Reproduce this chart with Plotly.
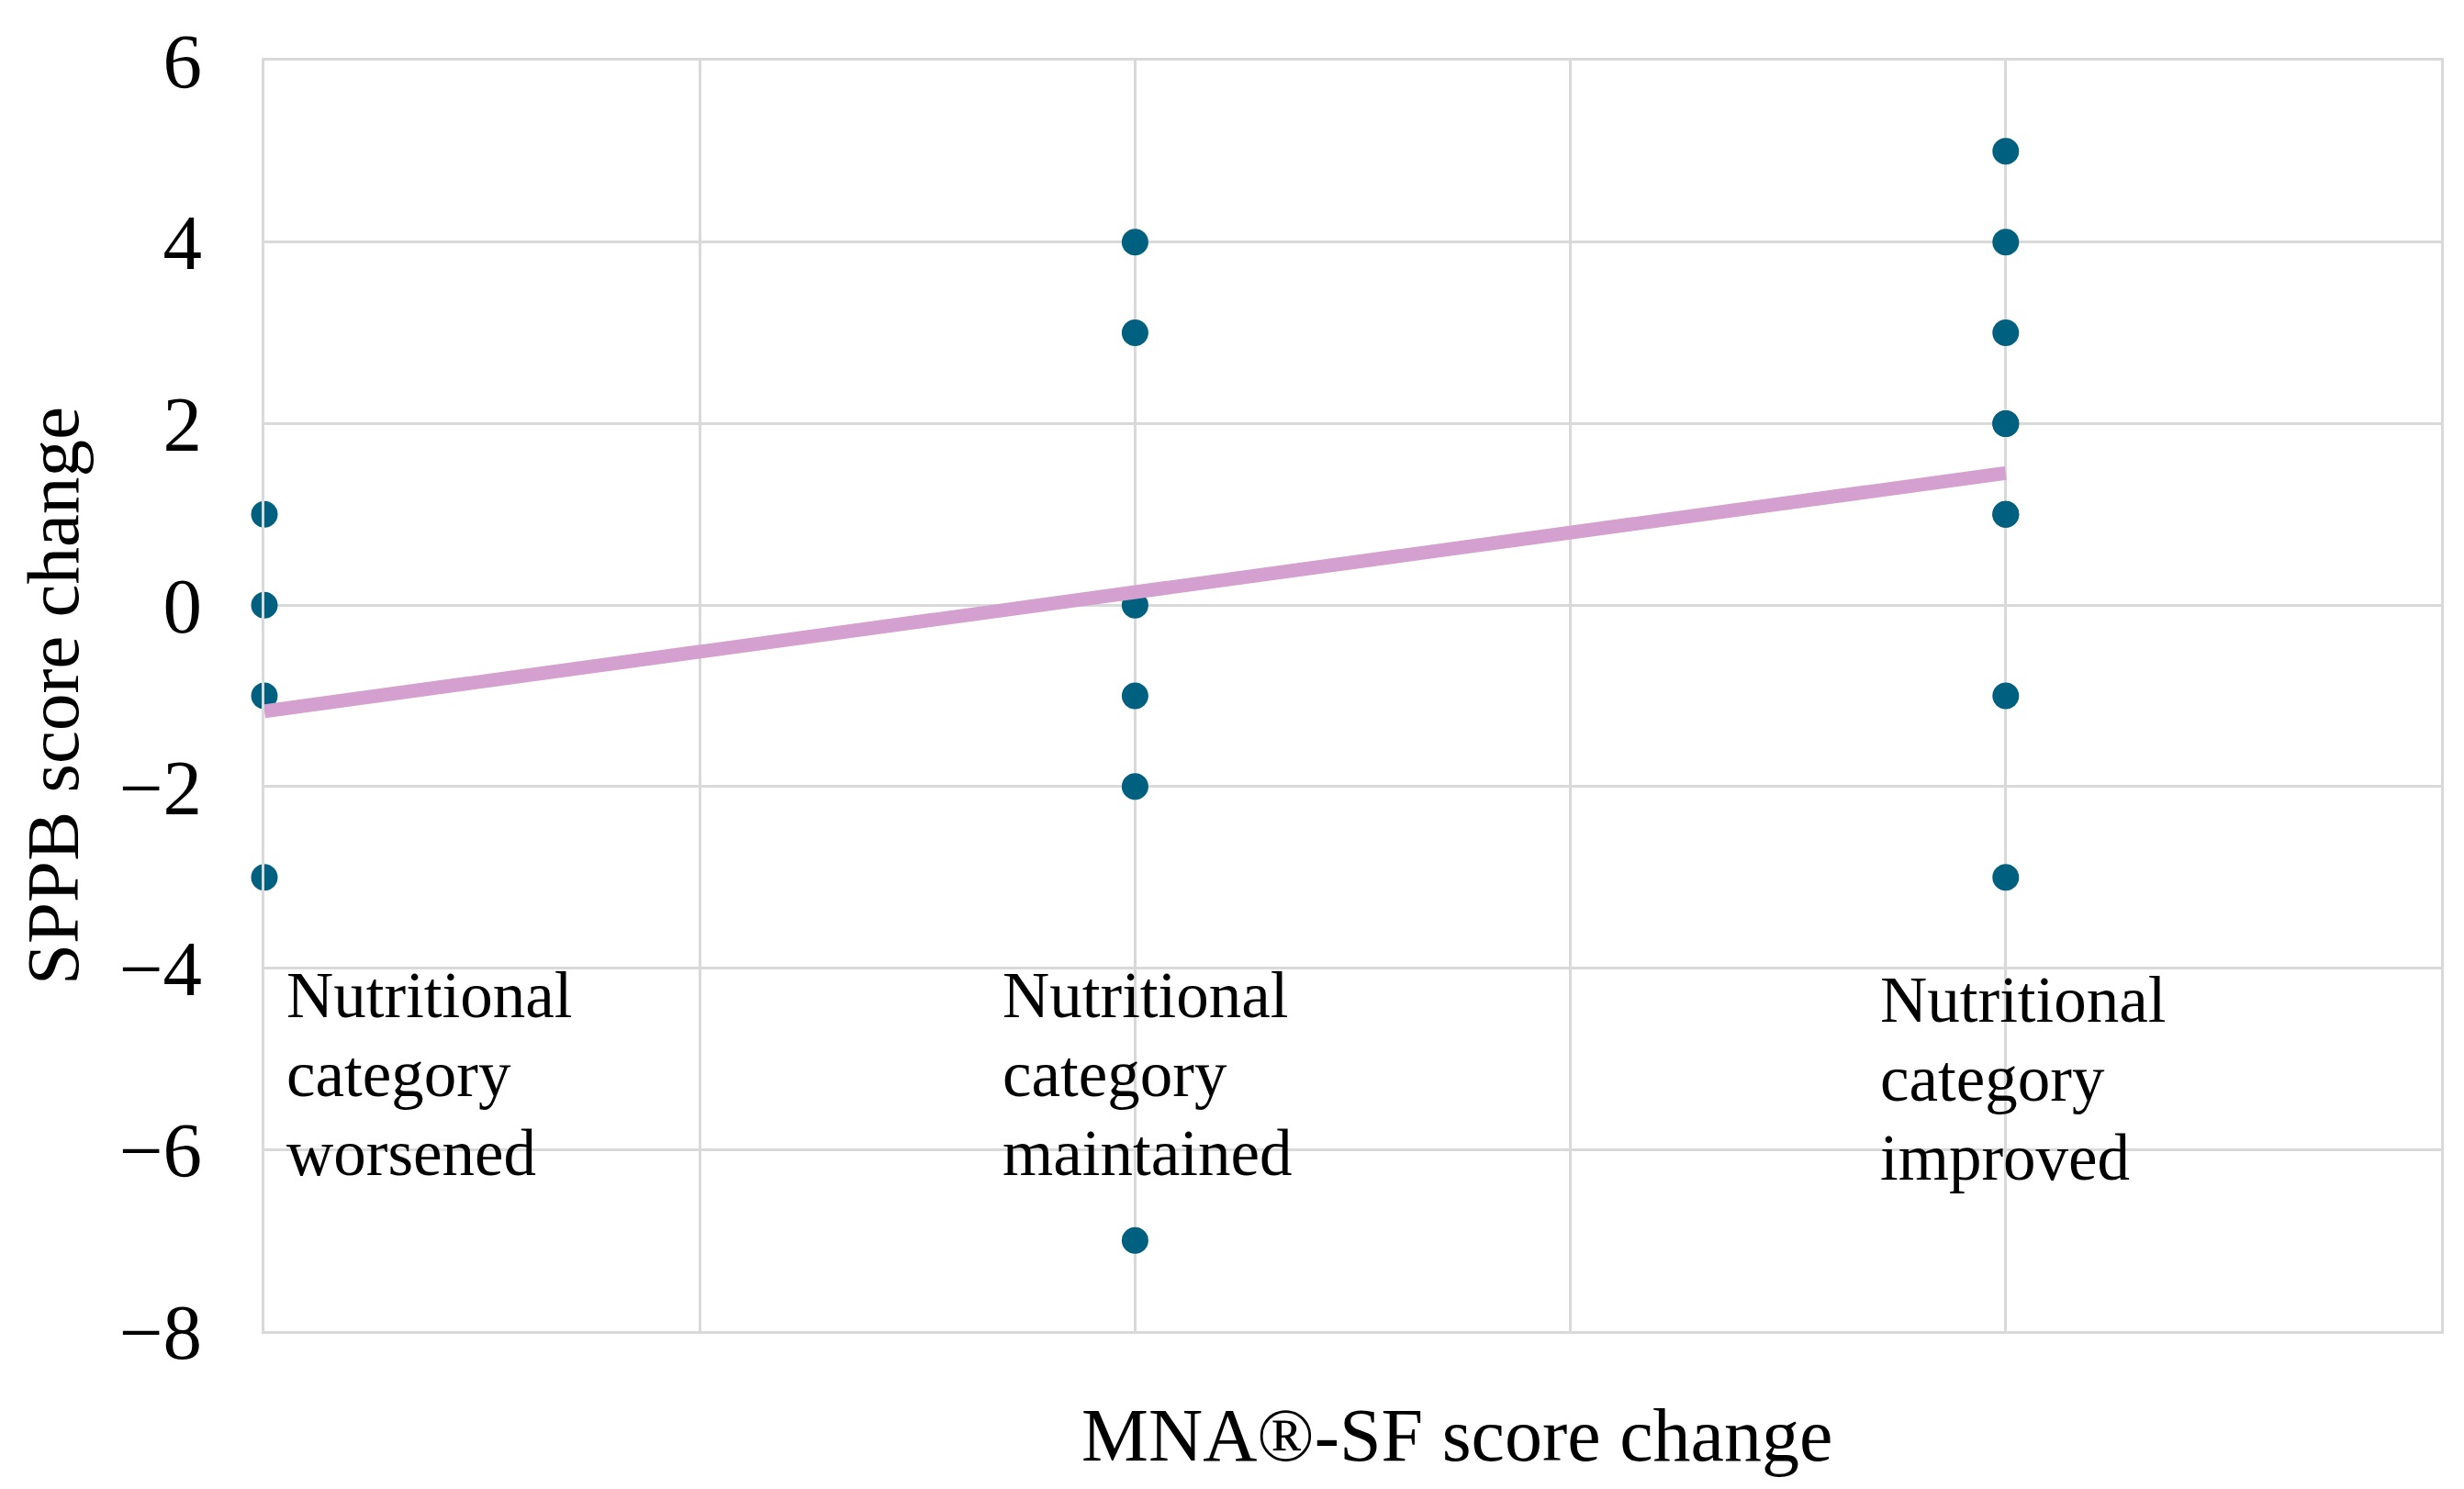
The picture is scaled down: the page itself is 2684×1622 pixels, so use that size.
import plotly.graph_objects as go

# ---- data ----
cat_x = {"worsened": 1, "maintained": 2, "improved": 3}
worsened_y = [1, 0, -1, -3]
maintained_y = [4, 3, 0, -1, -2, -7]
improved_y = [5, 4, 3, 2, 2, 1, 1, -1, -3]
trend_x = [1, 3]
trend_y = [-1.17, 1.455]
y_ticks = [6, 4, 2, 0, -2, -4, -6, -8]
cat_labels = [
    ("worsened", ["Nutritional", "category", "worsened"]),
    ("maintained", ["Nutritional", "category", "maintained"]),
    ("improved", ["Nutritional", "category", "improved"]),
]
x_title = "MNA®-SF score change"
y_title = "SPPB score change"

FONT = "Liberation Serif"
GRID = "#D9D9D9"
DOT = "#00607F"
TREND = "#D4A0CF"

xs = ([cat_x["worsened"]] * len(worsened_y) + [cat_x["maintained"]] * len(maintained_y)
      + [cat_x["improved"]] * len(improved_y))
ys = worsened_y + maintained_y + improved_y

fig = go.Figure()
fig.add_trace(go.Scatter(x=xs, y=ys, mode="markers",
                         marker=dict(color=DOT, size=29, line=dict(width=0)),
                         showlegend=False, cliponaxis=False))
fig.add_trace(go.Scatter(x=trend_x, y=trend_y, mode="lines",
                         line=dict(color=TREND, width=15), showlegend=False))

# category labels (left aligned text blocks)
label_pos = {"worsened": (1.023, -3.88), "maintained": (1.846, -3.88), "improved": (2.854, -3.93)}
line_step = 86
for key, lines in cat_labels:
    lx, ly = label_pos[key]
    for i, t in enumerate(lines):
        fig.add_annotation(x=lx, y=ly, xref="x", yref="y", text=t, showarrow=False,
                           xanchor="left", yanchor="top", yshift=-i * line_step,
                           font=dict(family=FONT, size=71, color="black"))

fig.add_annotation(x=0.548, y=-0.0817, xref="paper", yref="paper", text=x_title,
                   showarrow=False, xanchor="center", yanchor="middle",
                   font=dict(family=FONT, size=82, color="black"))
fig.add_annotation(x=-0.097, y=0.5, xref="paper", yref="paper", text=y_title,
                   showarrow=False, textangle=-90, xanchor="center", yanchor="middle",
                   font=dict(family=FONT, size=81, color="black"))

fig.update_layout(
    width=2684, height=1622,
    margin=dict(l=280, r=33, t=43, b=180),
    paper_bgcolor="white", plot_bgcolor="white",
    font=dict(family=FONT, color="black"),
)
fig.update_xaxes(range=[1, 3.5], dtick=0.5, tick0=1, showticklabels=False,
                 showgrid=True, gridcolor=GRID, gridwidth=3, zeroline=False,
                 showline=True, linecolor=GRID, linewidth=3, mirror=True, ticks="")
fig.update_yaxes(range=[-8, 6], tickvals=y_ticks, showgrid=True, gridcolor=GRID,
                 gridwidth=3, zeroline=False, showline=True, linecolor=GRID,
                 linewidth=3, mirror=True, ticks="", ticklabelstandoff=48,
                 ticklabeloverflow="allow",
                 tickfont=dict(family=FONT, size=85, color="black"))

fig.write_html("out.html")
